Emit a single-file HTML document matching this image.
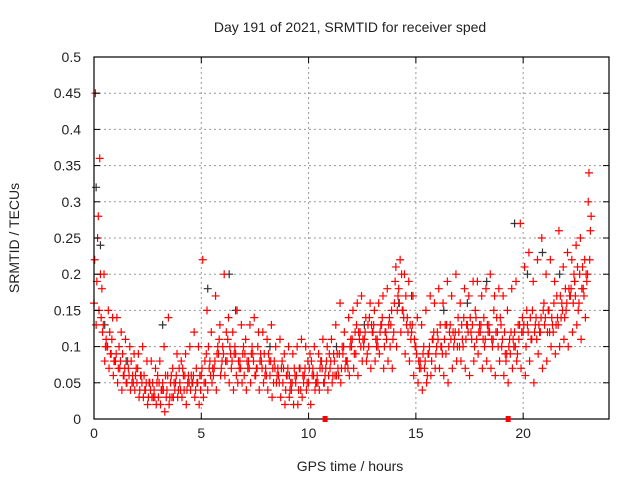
<!DOCTYPE html>
<html><head><meta charset="utf-8"><style>
body{margin:0;background:#fff}
svg{display:block;font-family:"Liberation Sans",sans-serif}
</style></head><body>
<svg id="c" width="640" height="480">
<text x="350" y="32" text-anchor="middle" font-size="14" fill="#222">Day 191 of 2021, SRMTID for receiver sped</text>
<text x="350" y="471" text-anchor="middle" font-size="14" fill="#222">GPS time / hours</text>
<text transform="translate(19,238) rotate(-90)" text-anchor="middle" font-size="14" fill="#222">SRMTID / TECUs</text>
<g id="grid"></g><g id="pts"></g><g id="axes"></g>
</svg>
<script>
const xTicks=[0,5,10,15,20];
const yTicks=[0,0.05,0.1,0.15,0.2,0.25,0.3,0.35,0.4,0.45,0.5];
const yTickLabels=["0","0.05","0.1","0.15","0.2","0.25","0.3","0.35","0.4","0.45","0.5"];
const seriesMid=[.16,.28,.12,.10,.09,.08,.07,.06,.07,.06,.05,.06,.04,.05,.04,.03,.05,.04,.06,.05,.05,.04,.06,.05,.05,.06,.05,.08,.07,.09,.10,.08,.07,.09,.08,.06,.08,.09,.07,.08,.07,.06,.08,.06,.05,.06,.04,.05,.07,.06,.05,.07,.06,.08,.07,.07,.08,.06,.09,.08,.10,.09,.12,.11,.10,.12,.11,.13,.12,.10,.16,.18,.15,.14,.12,.10,.08,.07,.09,.11,.12,.10,.09,.13,.11,.12,.10,.13,.11,.14,.12,.10,.13,.11,.12,.10,.08,.09,.12,.11,.12,.13,.11,.14,.12,.13,.15,.12,.14,.16,.15,.17,.19,.16,.18,.20];
const seriesHi=[.45,.36,.20,.15,.14,.14,.12,.11,.10,.09,.09,.10,.08,.08,.07,.08,.10,.14,.07,.09,.08,.09,.10,.12,.10,.22,.15,.12,.17,.13,.20,.14,.12,.15,.13,.11,.13,.14,.12,.12,.11,.13,.10,.11,.09,.10,.09,.10,.11,.10,.09,.10,.09,.11,.10,.11,.13,.16,.12,.14,.15,.16,.17,.14,.16,.15,.16,.17,.18,.15,.21,.22,.20,.19,.17,.14,.13,.15,.17,.16,.18,.16,.19,.17,.20,.16,.18,.17,.19,.19,.17,.18,.20,.17,.18,.17,.15,.18,.19,.27,.21,.23,.19,.22,.25,.20,.22,.19,.26,.21,.23,.22,.24,.25,.22,.34];
const seriesLo=[.13,.20,.08,.07,.06,.05,.04,.05,.04,.04,.03,.03,.02,.03,.02,.02,.01,.02,.03,.03,.03,.02,.04,.03,.02,.03,.04,.05,.04,.06,.06,.05,.04,.05,.05,.04,.05,.06,.04,.05,.04,.03,.05,.03,.02,.03,.02,.02,.03,.04,.02,.04,.04,.05,.04,.05,.06,.05,.07,.06,.07,.06,.08,.08,.07,.08,.09,.07,.08,.07,.10,.12,.09,.08,.06,.05,.04,.05,.06,.07,.07,.06,.05,.07,.08,.08,.07,.06,.08,.09,.07,.08,.07,.06,.08,.06,.05,.07,.08,.07,.06,.08,.05,.09,.07,.08,.10,.09,.10,.11,.10,.12,.13,.11,.14,.22];
const seriesMid2=[.25,.18,.11,.09,.08,.10,.06,.08,.05,.07,.06,.04,.05,.03,.06,.04,.03,.05,.04,.07,.06,.05,.05,.07,.04,.08,.07,.06,.10,.08,.12,.09,.10,.07,.10,.07,.10,.07,.09,.06,.08,.05,.07,.08,.06,.05,.06,.07,.05,.08,.06,.05,.08,.06,.09,.09,.07,.10,.08,.11,.12,.11,.10,.13,.12,.10,.13,.12,.14,.12,.17,.15,.13,.11,.10,.07,.10,.09,.11,.10,.10,.13,.12,.10,.14,.11,.13,.12,.15,.13,.14,.12,.10,.14,.13,.09,.11,.10,.13,.14,.15,.11,.13,.12,.16,.15,.13,.17,.14,.18,.17,.20,.15,.21,.19,.28];
const seriesMid3=[.22,.15,.13,.10,.11,.09,.08,.07,.06,.05,.07,.05,.05,.04,.03,.05,.04,.06,.03,.06,.04,.06,.05,.06,.05,.07,.09,.06,.08,.11,.09,.11,.08,.06,.07,.09,.07,.08,.10,.07,.06,.08,.07,.05,.07,.07,.05,.06,.04,.07,.07,.06,.05,.07,.08,.08,.06,.09,.10,.07,.11,.13,.10,.12,.14,.13,.10,.14,.11,.13,.19,.16,.14,.12,.13,.09,.07,.08,.10,.12,.11,.09,.13,.11,.12,.10,.14,.12,.13,.11,.13,.11,.12,.15,.10,.11,.09,.12,.10,.13,.13,.12,.15,.11,.14,.14,.12,.16,.13,.15,.16,.18,.17,.20,.17,.30];
const seriesMid4=[.19,.14,.10,.12,.08,.07,.09,.05,.08,.06,.04,.06,.03,.05,.05,.04,.06,.03,.05,.04,.07,.04,.06,.04,.06,.05,.10,.07,.09,.07,.08,.10,.09,.08,.09,.08,.09,.06,.08,.09,.09,.07,.06,.07,.04,.04,.07,.04,.06,.05,.08,.05,.07,.05,.06,.06,.09,.07,.08,.10,.09,.12,.11,.09,.13,.11,.12,.10,.13,.11,.15,.20,.17,.13,.11,.08,.09,.06,.08,.09,.13,.11,.10,.12,.10,.13,.11,.14,.10,.12,.11,.13,.11,.12,.14,.12,.10,.11,.09,.12,.10,.14,.12,.13,.15,.12,.14,.13,.17,.14,.18,.16,.21,.18,.20,.26];
const grayTimes=[0.1,0.3,0.5,1.5,3.2,5.3,6.3,6.6,8.2,9.1,11.3,12.6,14.2,14.8,16.3,17.4,18.3,19.6,20.2,20.9,21.7,22.4];
const grayValues=[0.32,0.24,0.13,0.08,0.13,0.18,0.2,0.15,0.1,0.06,0.1,0.13,0.16,0.17,0.15,0.16,0.19,0.27,0.2,0.23,0.2,0.19];
const markerTimes=[10.77,19.3];
const X0=94,X1=609,Y0=419,Y1=57;
const xs=t=>X0+(X1-X0)*t/24, ys=v=>Y0-(Y0-Y1)*v/0.5;
const NS="http://www.w3.org/2000/svg";
function mk(tag,at,par){const e=document.createElementNS(NS,tag);for(const k in at)e.setAttribute(k,at[k]);par.appendChild(e);return e;}
const grid=document.getElementById('grid'),pts=document.getElementById('pts'),axes=document.getElementById('axes');
xTicks.forEach(t=>{
 if(t>0){const g=mk('line',{x1:xs(t),x2:xs(t),y1:Y1,y2:Y0,stroke:'#999','stroke-dasharray':'2,3'},grid);
 
 }
 mk('line',{x1:xs(t),x2:xs(t),y1:Y0,y2:Y0-6,stroke:'#000'},axes);
 mk('line',{x1:xs(t),x2:xs(t),y1:Y1,y2:Y1+6,stroke:'#000'},axes);
 const l=mk('text',{x:xs(t),y:Y0+19,'text-anchor':'middle','font-size':14,fill:'#222'},axes);l.textContent=t;
 
 
});
yTicks.forEach((v,i)=>{
 if(v>0&&v<0.5){const g=mk('line',{x1:X0,x2:X1,y1:ys(v),y2:ys(v),stroke:'#999','stroke-dasharray':'2,3'},grid);
 
 }
 mk('line',{x1:X0,x2:X0+6,y1:ys(v),y2:ys(v),stroke:'#000'},axes);
 mk('line',{x1:X1,x2:X1-6,y1:ys(v),y2:ys(v),stroke:'#000'},axes);
 const l=mk('text',{x:X0-13,y:ys(v)+5,'text-anchor':'end','font-size':14,fill:'#222'},axes);l.textContent=yTickLabels[i];
 
 
});
const fr=mk('rect',{x:X0,y:Y1,width:X1-X0,height:Y0-Y1,fill:'none',stroke:'#000','stroke-width':1.2},axes);


function plus(t,v,c){const x=xs(t),y=ys(v);
 const p=mk('path',{d:`M${x-4},${y}h8M${x},${y-4}v8`,stroke:c,'stroke-width':1.2,fill:'none'},pts);
 
 }
grayTimes.forEach((t,i)=>plus(t,grayValues[i],'#333'));
[[seriesMid,0],[seriesMid3,0.033],[seriesHi,0.067],[seriesLo,0.1],[seriesMid4,0.133],[seriesMid2,0.167]].forEach(([s,off])=>{
 s.forEach((v,i)=>plus(i*0.2+off,v,'#f00'));
});
markerTimes.forEach(t=>{const r=mk('rect',{x:xs(t)-2.5,y:Y0-3,width:5,height:6,fill:'#f00'},axes);
 
 });
</script>
</body></html>
